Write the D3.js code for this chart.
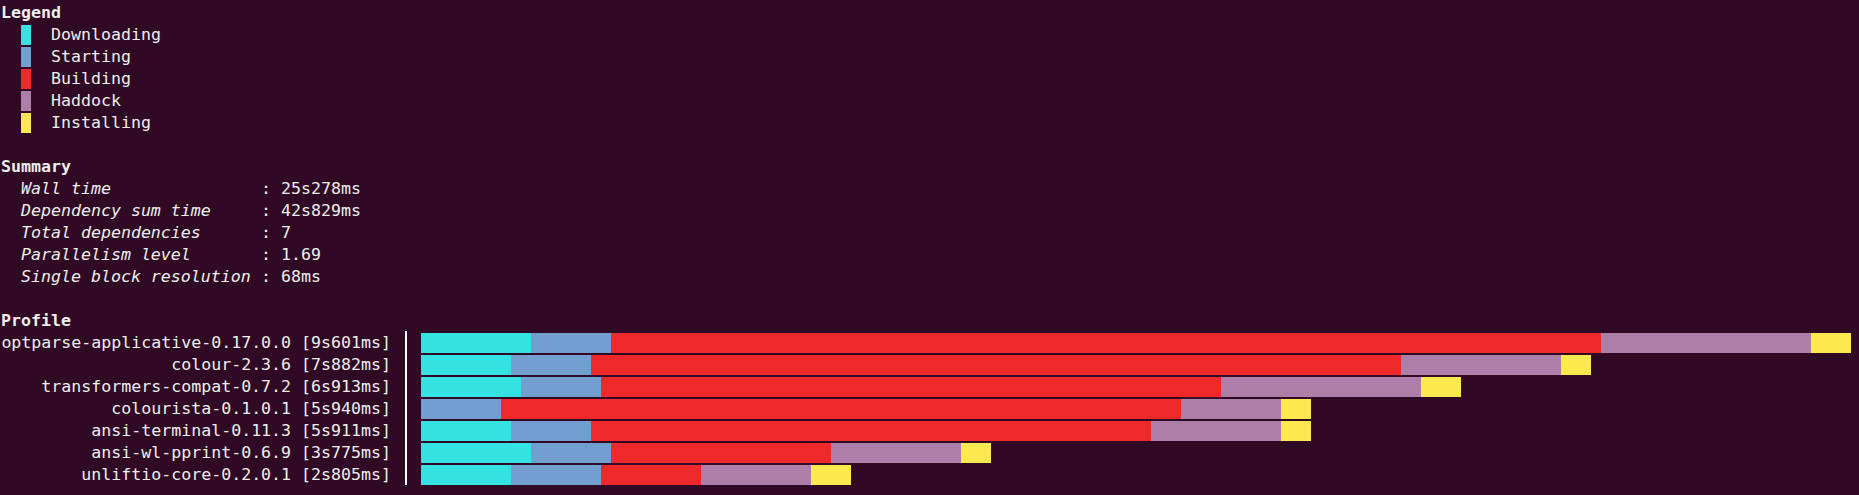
<!DOCTYPE html>
<html>
<head>
<meta charset="utf-8">
<script src="https://cdn.jsdelivr.net/npm/d3@7"></script>
<style>
  html, body { margin: 0; padding: 0; background: #300a24; overflow: hidden; }
  svg { display: block; }
  text { font-family: "DejaVu Sans Mono", "Liberation Mono", monospace; font-size: 16.6px; fill: #eeeeec; white-space: pre; }
</style>
</head>
<body>
<script>
// ---- Data ----
const phases = ["Downloading", "Starting", "Building", "Haddock", "Installing"];
const phaseColors = ["#34e2e2", "#729fcf", "#ef2929", "#ad7fa8", "#fce94f"];

const summaryLabels = ["Wall time", "Dependency sum time", "Total dependencies", "Parallelism level", "Single block resolution"];
const summaryValues = ["25s278ms", "42s829ms", "7", "1.69", "68ms"];

const packages = [
  "optparse-applicative-0.17.0.0",
  "colour-2.3.6",
  "transformers-compat-0.7.2",
  "colourista-0.1.0.1",
  "ansi-terminal-0.11.3",
  "ansi-wl-pprint-0.6.9",
  "unliftio-core-0.2.0.1"
];
const durations = ["9s601ms", "7s882ms", "6s913ms", "5s940ms", "5s911ms", "3s775ms", "2s805ms"];

// phase lengths in blocks (1 block = 68ms)
const downloading = [11, 9, 10, 0, 9, 11, 9];
const starting    = [8, 8, 8, 8, 8, 8, 9];
const building    = [99, 81, 62, 68, 56, 22, 10];
const haddock     = [21, 16, 20, 10, 13, 13, 11];
const installing  = [4, 3, 4, 3, 3, 3, 4];

// ---- Layout ----
const W = 1859, H = 495;
const CH = 10, LH = 22, X0 = 1, Y0 = 1;
const colX = c => X0 + CH * c;
const rowBase = r => 17.5 + LH * r;
const rowTop = r => Y0 + LH * r;

const svg = d3.select("body").append("svg").attr("width", W).attr("height", H);
svg.append("rect").attr("width", W).attr("height", H).attr("fill", "#300a24");

// Legend
svg.append("text").attr("x", colX(0)).attr("y", rowBase(0)).style("font-weight", "bold").attr("fill", "#ffffff").text("Legend");
const leg = svg.append("g").selectAll("g").data(phases).join("g");
leg.append("rect")
  .attr("x", colX(2)).attr("y", (d, i) => rowTop(i + 1) + 2)
  .attr("width", CH).attr("height", LH - 2)
  .attr("fill", (d, i) => phaseColors[i]);
leg.append("text")
  .attr("x", colX(5)).attr("y", (d, i) => rowBase(i + 1))
  .text(d => d);

// Summary
svg.append("text").attr("x", colX(0)).attr("y", rowBase(7)).style("font-weight", "bold").attr("fill", "#ffffff").text("Summary");
const sum = svg.append("g").selectAll("g").data(summaryLabels).join("g");
sum.append("text").attr("x", colX(2)).attr("y", (d, i) => rowBase(8 + i)).style("font-style", "italic").text(d => d);
sum.append("text").attr("x", colX(26)).attr("y", (d, i) => rowBase(8 + i)).text((d, i) => ": " + summaryValues[i]);

// Profile
svg.append("text").attr("x", colX(0)).attr("y", rowBase(14)).style("font-weight", "bold").attr("fill", "#ffffff").text("Profile");

svg.append("g").selectAll("text").data(packages).join("text")
  .attr("x", colX(39)).attr("y", (d, i) => rowBase(15 + i))
  .attr("text-anchor", "end")
  .text((d, i) => d + " [" + durations[i] + "]");

// separator
svg.append("rect")
  .attr("x", colX(40) + 4).attr("y", rowTop(15))
  .attr("width", 2).attr("height", LH * packages.length)
  .attr("fill", "#ffffff");

// bars
const series = [downloading, starting, building, haddock, installing];
const rows = packages.map((p, i) => {
  const o = { pkg: p };
  phases.forEach((ph, k) => o[ph] = series[k][i]);
  return o;
});
const stack = d3.stack().keys(phases)(rows);
const maxBlocks = d3.max(rows, r => d3.sum(phases, ph => r[ph]));

const x = d3.scaleLinear().domain([0, maxBlocks]).range([colX(42), colX(42) + CH * maxBlocks]);
const y = d3.scaleBand().domain(packages).range([rowTop(15) + 2, rowTop(15 + packages.length)]).paddingInner(2 / 22).paddingOuter(0);
const color = d3.scaleOrdinal().domain(phases).range(phaseColors);

svg.append("g").selectAll("g").data(stack).join("g")
  .attr("fill", d => color(d.key))
  .selectAll("rect").data(d => d).join("rect")
  .attr("x", d => x(d[0]))
  .attr("y", d => y(d.data.pkg))
  .attr("width", d => x(d[1]) - x(d[0]))
  .attr("height", y.bandwidth())
  .attr("shape-rendering", "crispEdges");
</script>
</body>
</html>
